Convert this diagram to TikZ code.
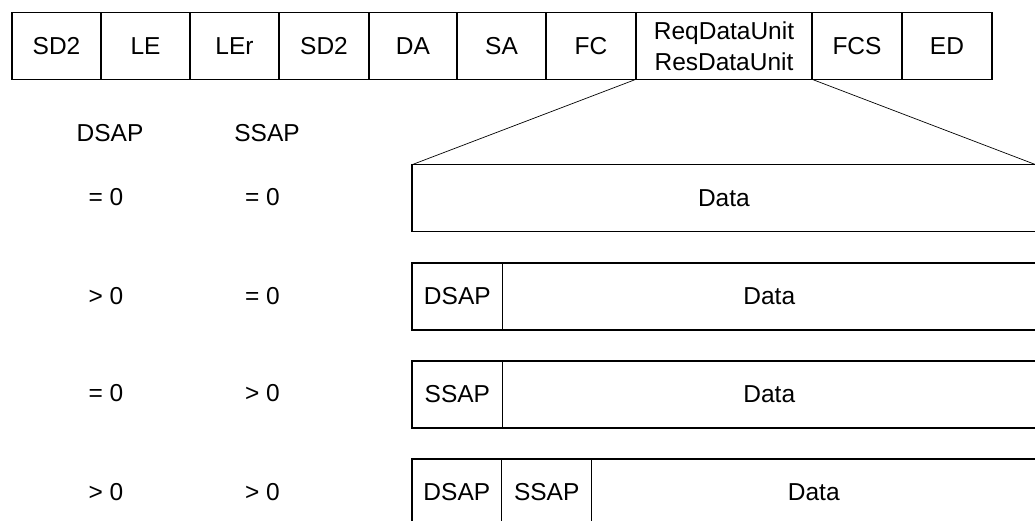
\documentclass[tikz,border=0pt]{standalone}
\usepackage{fontspec}
\setmainfont{Liberation Sans}
\begin{document}
\begin{tikzpicture}[x=1pt,y=-1pt,
  every node/.style={font=\fontsize{24.5}{31}\selectfont},
  cell/.style={draw, line width=1.2pt, inner sep=0pt, outer sep=0pt, minimum height=67pt},
  lbl/.style={inner sep=0pt},
  zoomline/.style={line width=0.7pt}]
\useasboundingbox (0,0) rectangle (1035,521);
% top frame
\node[cell, minimum width=89pt] (sd2a) at (56.5,45.8) {SD2};
\node[cell, minimum width=89pt] (le) at (145.5,45.8) {LE};
\node[cell, minimum width=89pt] (ler) at (234.5,45.8) {LEr};
\node[cell, minimum width=90pt] (sd2b) at (324,45.8) {SD2};
\node[cell, minimum width=88pt] (da) at (413,45.8) {DA};
\node[cell, minimum width=89pt] (sa) at (501.5,45.8) {SA};
\node[cell, minimum width=90pt] (fc) at (591,45.8) {FC};
\node[cell, minimum width=176pt, align=center] (req) at (724,45.8) {ReqDataUnit\\ResDataUnit};
\node[cell, minimum width=90pt] (fcs) at (857,45.8) {FCS};
\node[cell, minimum width=90pt] (ed) at (947,45.8) {ED};
% header labels
\node[lbl] (hd) at (110,133) {DSAP};
\node[lbl] (hs) at (267,133) {SSAP};
% condition labels
\node[lbl] (r1d) at (106,197) {= 0};
\node[lbl] (r1s) at (262.5,197) {= 0};
\node[lbl] (r2d) at (106,296) {> 0};
\node[lbl] (r2s) at (262.5,296) {= 0};
\node[lbl] (r3d) at (106,393.5) {= 0};
\node[lbl] (r3s) at (262.5,393.5) {> 0};
\node[lbl] (r4d) at (106,492) {> 0};
\node[lbl] (r4s) at (262.5,492) {> 0};
% row 1
\node[cell, minimum width=623.8pt] (d1) at (723.9,198.2) {Data};
% row 2
\node[cell, minimum width=90.7pt] (r2a) at (457.35,296.5) {DSAP};
\node[cell, minimum width=533.1pt] (d2) at (769.25,296.5) {Data};
% row 3
\node[cell, minimum width=90.7pt] (r3a) at (457.35,394.5) {SSAP};
\node[cell, minimum width=533.1pt] (d3) at (769.25,394.5) {Data};
% row 4
\node[cell, minimum width=89.7pt] (r4a) at (456.85,492.5) {DSAP};
\node[cell, minimum width=90pt] (r4b) at (546.7,492.5) {SSAP};
\node[cell, minimum width=444.1pt] (d4) at (813.75,492.5) {Data};
% zoom lines
\draw[zoomline] (req.south west) -- (d1.north west);
\draw[zoomline] (req.south east) -- (d1.north east);
\end{tikzpicture}
\end{document}
